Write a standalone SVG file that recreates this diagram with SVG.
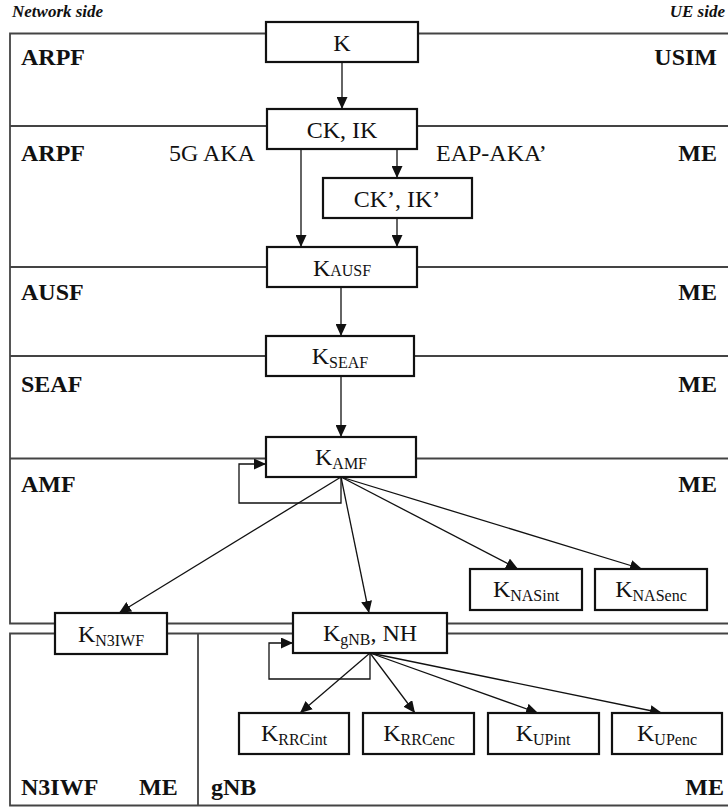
<svg xmlns="http://www.w3.org/2000/svg" width="728" height="807" viewBox="0 0 728 807">
  <style>
    .sep { stroke: #444; stroke-width: 1.8; fill: none; }
    .box rect { fill: #fff; stroke: #111; stroke-width: 2.2; }
    .box text { font-family: "Liberation Serif", "Times New Roman", serif; font-size: 24px; fill: #111; text-anchor: middle; }
    .sub { font-size: 16px; }
    .lbl { font-family: "Liberation Serif", "Times New Roman", serif; font-size: 24px; font-weight: bold; fill: #111; }
    .end { text-anchor: end; }
    .side { font-family: "Liberation Serif", "Times New Roman", serif; font-size: 17px; font-weight: bold; font-style: italic; fill: #111; }
    .reg { font-family: "Liberation Serif", "Times New Roman", serif; font-size: 24px; fill: #111; }
    .conn path { stroke: #111; stroke-width: 1.3; fill: none; marker-end: url(#arr); }
  </style>
  <defs>
    <marker id="arr" markerUnits="userSpaceOnUse" markerWidth="12" markerHeight="11" refX="12" refY="5.5" orient="auto">
      <path d="M0,0 L12,5.5 L0,11 z" fill="#111"/>
    </marker>
  </defs>
  <rect width="728" height="807" fill="#fff"/>

  <!-- layer frame and separators -->
  <g id="layers">
    <path class="sep" d="M728,33.5 H10 V623.5 H728"/>
    <path class="sep" d="M10,126 H728"/>
    <path class="sep" d="M10,267 H728"/>
    <path class="sep" d="M10,356 H728"/>
    <path class="sep" d="M10,458.5 H728"/>
    <path class="sep" d="M728,633.5 H10 V805.5 H728"/>
    <path class="sep" d="M198,633.5 V805.5"/>
  </g>

  <!-- side and layer labels -->
  <g id="labels">
    <text class="side" x="12" y="17">Network side</text>
    <text class="side end" x="725" y="17">UE side</text>
    <text class="lbl" x="21" y="65">ARPF</text>
    <text class="lbl end" x="717" y="65">USIM</text>
    <text class="lbl" x="21" y="161">ARPF</text>
    <text class="reg" x="169" y="161">5G AKA</text>
    <text class="reg" x="436" y="161">EAP-AKA’</text>
    <text class="lbl end" x="717" y="161">ME</text>
    <text class="lbl" x="21" y="300">AUSF</text>
    <text class="lbl end" x="717" y="300">ME</text>
    <text class="lbl" x="21" y="392">SEAF</text>
    <text class="lbl end" x="717" y="392">ME</text>
    <text class="lbl" x="21" y="492">AMF</text>
    <text class="lbl end" x="717" y="492">ME</text>
    <text class="lbl" x="21" y="795">N3IWF</text>
    <text class="lbl" x="139" y="795">ME</text>
    <text class="lbl" x="211" y="795">gNB</text>
    <text class="lbl end" x="724" y="795">ME</text>
  </g>

  <!-- connectors -->
  <g id="connectors" class="conn">
    <path d="M342,62 V109"/>
    <path d="M301,149 V247"/>
    <path d="M397,149 V178"/>
    <path d="M397,218 V247"/>
    <path d="M341,287 V336"/>
    <path d="M341,376 V437"/>
    <path d="M341,477 V503 H239 V464 H266"/>
    <path d="M341,477 L119,613"/>
    <path d="M341,477 L369,613"/>
    <path d="M341,477 L518,569"/>
    <path d="M341,477 L642,569"/>
    <path d="M370,653 V679 H269 V643 H293"/>
    <path d="M370,653 L300,713"/>
    <path d="M370,653 L415,713"/>
    <path d="M370,653 L538,713"/>
    <path d="M370,653 L662,713"/>
  </g>

  <!-- key nodes -->
  <g id="k" class="box"><rect x="266" y="22" width="152" height="40"/><text x="342" y="51">K</text></g>
  <g id="ck-ik" class="box"><rect x="267" y="109" width="150" height="40"/><text x="342" y="138">CK, IK</text></g>
  <g id="ck-ik-prime" class="box"><rect x="323" y="178" width="149" height="40"/><text x="397" y="207">CK’, IK’</text></g>
  <g id="k-ausf" class="box"><rect x="267" y="247" width="150" height="40"/><text x="342" y="276">K<tspan class="sub">AUSF</tspan></text></g>
  <g id="k-seaf" class="box"><rect x="266" y="336" width="148" height="40"/><text x="340" y="364">K<tspan class="sub" dy="4">SEAF</tspan></text></g>
  <g id="k-amf" class="box"><rect x="266" y="437" width="150" height="40"/><text x="341" y="465">K<tspan class="sub" dy="4">AMF</tspan></text></g>
  <g id="k-n3iwf" class="box"><rect x="55" y="613" width="112" height="41"/><text x="111" y="642">K<tspan class="sub" dy="4">N3IWF</tspan></text></g>
  <g id="k-gnb-nh" class="box"><rect x="293" y="613" width="154" height="40"/><text x="370" y="641">K<tspan class="sub" dy="4">gNB</tspan><tspan dy="-4">, NH</tspan></text></g>
  <g id="k-nas-int" class="box"><rect x="470" y="569" width="112" height="41"/><text x="526" y="597">K<tspan class="sub" dy="4">NASint</tspan></text></g>
  <g id="k-nas-enc" class="box"><rect x="595" y="569" width="112" height="41"/><text x="651" y="597">K<tspan class="sub" dy="4">NASenc</tspan></text></g>
  <g id="k-rrc-int" class="box"><rect x="239" y="713" width="110" height="41"/><text x="294" y="741">K<tspan class="sub" dy="4">RRCint</tspan></text></g>
  <g id="k-rrc-enc" class="box"><rect x="363" y="713" width="111" height="41"/><text x="419" y="741">K<tspan class="sub" dy="4">RRCenc</tspan></text></g>
  <g id="k-up-int" class="box"><rect x="488" y="713" width="111" height="41"/><text x="543" y="741">K<tspan class="sub" dy="4">UPint</tspan></text></g>
  <g id="k-up-enc" class="box"><rect x="612" y="713" width="110" height="41"/><text x="667" y="741">K<tspan class="sub" dy="4">UPenc</tspan></text></g>
</svg>
